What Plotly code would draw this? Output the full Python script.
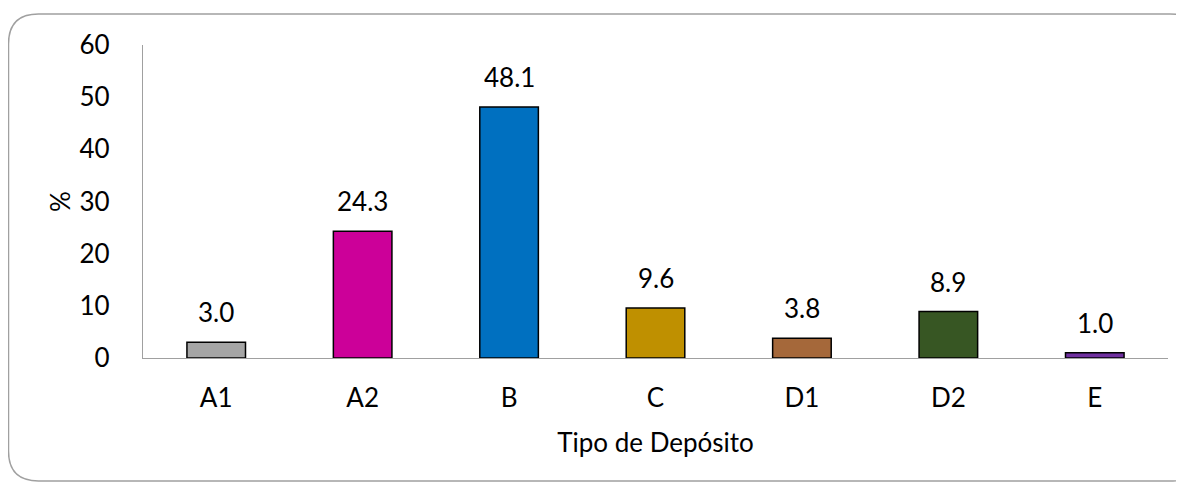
import plotly.graph_objects as go

categories = ["A1", "A2", "B", "C", "D1", "D2", "E"]
values = [3.0, 24.3, 48.1, 9.6, 3.8, 8.9, 1.0]
colors = ["#A5A5A5", "#CC0099", "#0070C0", "#BF9000", "#A5683A", "#375623", "#7030A0"]
y_ticks = [0, 10, 20, 30, 40, 50, 60]

# page body has an 8px margin, so figure is drawn 8px in from the window edge
W, H = 1176, 474
L, R, T, B = 135, 16, 37, 124
pw, ph = W - L - R, H - T - B

FONT = "Lato, Open Sans, sans-serif"
FS = 26

fig = go.Figure()
fig.add_trace(go.Bar(
    x=categories, y=values,
    marker=dict(color=colors, line=dict(color="#000000", width=1.5)),
    hoverinfo="x+y", showlegend=False,
))

for c, v in zip(categories, values):
    fig.add_annotation(x=c, y=v, text=f"{v:.1f}", showarrow=False,
                       yanchor="bottom", yshift=12,
                       font=dict(family=FONT, size=FS, color="#000000"))

# rounded frame around the chart (pixel -> paper coords)
def px(x):
    return (x - L) / pw

def py(y):
    return (H - B - y) / ph

x0, x1, y0, y1, r = 0.5, 1192, 6, 473, 30
path = (
    f"M {px(x0 + r)},{py(y0)} L {px(x1 - r)},{py(y0)} "
    f"Q {px(x1)},{py(y0)} {px(x1)},{py(y0 + r)} "
    f"L {px(x1)},{py(y1 - r)} Q {px(x1)},{py(y1)} {px(x1 - r)},{py(y1)} "
    f"L {px(x0 + r)},{py(y1)} Q {px(x0)},{py(y1)} {px(x0)},{py(y1 - r)} "
    f"L {px(x0)},{py(y0 + r)} Q {px(x0)},{py(y0)} {px(x0 + r)},{py(y0)} Z"
)
fig.add_shape(type="path", path=path, xref="paper", yref="paper",
              line=dict(color="#A0A0A0", width=1.5), layer="below")

fig.update_layout(
    width=W, height=H,
    margin=dict(l=L, r=R, t=T, b=B),
    paper_bgcolor="white", plot_bgcolor="white",
    bargap=0.6,
    font=dict(family=FONT, size=FS, color="#000000"),
    xaxis=dict(
        showline=True, linecolor="#A0A0A0", linewidth=1.2,
        showgrid=False, ticks="", ticklabelstandoff=17,
        tickfont=dict(size=FS),
        title=dict(text="Tipo de Depósito", font=dict(size=FS), standoff=21),
    ),
    yaxis=dict(
        range=[0, 60], tickvals=y_ticks, showline=True, linecolor="#A0A0A0",
        linewidth=1.2, showgrid=False, ticks="", ticklabelstandoff=27,
        tickfont=dict(size=FS), zeroline=False,
        title=dict(text="%", font=dict(size=FS), standoff=1),
    ),
)

fig.write_html("out.html")
